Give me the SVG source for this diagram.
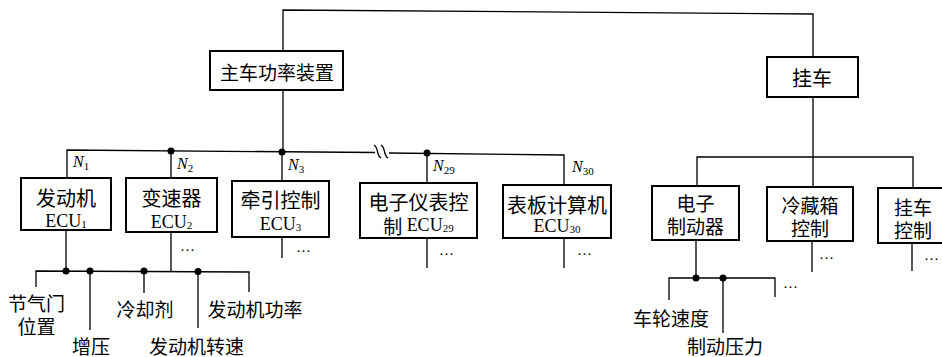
<svg xmlns="http://www.w3.org/2000/svg" width="942" height="357" viewBox="0 0 942 357">
<style>
.box{fill:#fff;stroke:#000;stroke-width:2}
.ln{fill:none;stroke:#000;stroke-width:1.3}
.cn{font-family:"Noto Sans CJK SC","Noto Sans",sans-serif;font-size:19px;fill:#000;text-anchor:middle;dominant-baseline:central}
.ec{font-family:"Liberation Serif",serif;font-size:18px;fill:#000;text-anchor:middle;dominant-baseline:central}
.sb{font-size:11px}
.nl{font-family:"Liberation Serif",serif;font-size:16px;font-style:italic;fill:#000}
.ns{font-style:normal;font-size:11px}
.el{font-family:"Liberation Serif",serif;font-size:15px;fill:#000}
</style>
<rect width="942" height="357" fill="#fff"/>
<g id="connectors">
<path class="ln" d="M283 51 V10 L813 14 V57"/>
<path class="ln" d="M283 90 V152"/>
<path class="ln" d="M67 178 V150 L375 152.5 M389 153 L564 155 V185"/>
<path class="ln" d="M374 145 C379 148,376 155,381 158 M381 145 C386 148,383 155,388 158"/>
<path class="ln" d="M171 151 V178 M282 152 V181 M427 153 V183"/>
<path class="ln" d="M813 97 V187 M697 186 V157 H913 V188"/>
<path class="ln" d="M66 230 V271 M36 287 V271 L249 272 V292 M90 271 V330 M144 271 V293 M198 271 V328 M171 232 V271"/>
<path class="ln" d="M282 237 V258 M427 238 V268 M564 238 V268 M812 241 V272 M912 243 V271"/>
<path class="ln" d="M696 240 V278 M669 300 V278 H775 V297 M723 278 V333"/>
<g fill="#000">
<circle cx="171" cy="151" r="3.5"/><circle cx="282" cy="152" r="3.5"/><circle cx="427" cy="153" r="3.5"/>
<circle cx="66" cy="271" r="3.5"/><circle cx="90" cy="271" r="3.5"/><circle cx="144" cy="271" r="3.5"/><circle cx="198" cy="271.5" r="3.5"/>
<circle cx="696" cy="278" r="3.5"/><circle cx="723" cy="278" r="3.5"/>
</g>
<text class="nl" x="73" y="167">N<tspan class="ns" dy="3">1</tspan></text>
<text class="nl" x="177" y="169">N<tspan class="ns" dy="3">2</tspan></text>
<text class="nl" x="288" y="170">N<tspan class="ns" dy="3">3</tspan></text>
<text class="nl" x="433" y="171">N<tspan class="ns" dy="3">29</tspan></text>
<text class="nl" x="572" y="172">N<tspan class="ns" dy="3">30</tspan></text>
<text class="el" x="180" y="255">···</text>
<text class="el" x="296" y="256">···</text>
<text class="el" x="439" y="259">···</text>
<text class="el" x="577" y="259">···</text>
<text class="el" x="819" y="263">···</text>
<text class="el" x="924" y="264">···</text>
<text class="el" x="783" y="292">···</text>
</g>
<g id="main"><rect class="box" x="210" y="51" width="133" height="39"/><text class="cn" x="277" y="71">主车功率装置</text></g>
<g id="trailer"><rect class="box" x="767" y="57" width="91" height="40"/><text class="cn" x="812" y="77" style="font-size:20px">挂车</text></g>
<g id="ecu1"><rect class="box" x="21" y="178" width="90" height="52"/><text class="cn" x="66" y="197" style="font-size:20px">发动机</text><text class="ec" x="66" y="221">ECU<tspan class="sb" dy="3">1</tspan></text></g>
<g id="ecu2"><rect class="box" x="126" y="178" width="91" height="54"/><text class="cn" x="171.5" y="197" style="font-size:20px">变速器</text><text class="ec" x="171.5" y="222">ECU<tspan class="sb" dy="3">2</tspan></text></g>
<g id="ecu3"><rect class="box" x="232" y="181" width="97" height="56"/><text class="cn" x="280.5" y="199" style="font-size:20px">牵引控制</text><text class="ec" x="280.5" y="224">ECU<tspan class="sb" dy="3">3</tspan></text></g>
<g id="ecu29"><rect class="box" x="360" y="183" width="117" height="55"/><text class="cn" x="418.5" y="201" style="font-size:20px">电子仪表控</text><text class="cn" x="418.5" y="225">制 <tspan style="font-family:'Liberation Serif',serif;font-size:18px">ECU</tspan><tspan style="font-family:'Liberation Serif',serif;font-size:11px" dy="3">29</tspan></text></g>
<g id="ecu30"><rect class="box" x="503" y="185" width="108" height="53"/><text class="cn" x="557" y="204" style="font-size:20px">表板计算机</text><text class="ec" x="557" y="226">ECU<tspan class="sb" dy="3">30</tspan></text></g>
<g id="brake"><rect class="box" x="652" y="186" width="87" height="54"/><text class="cn" x="695.5" y="202">电子</text><text class="cn" x="695.5" y="225">制动器</text></g>
<g id="fridge"><rect class="box" x="767" y="187" width="86" height="54"/><text class="cn" x="810" y="204">冷藏箱</text><text class="cn" x="810" y="227">控制</text></g>
<g id="trailerctrl"><rect class="box" x="878" y="188" width="80" height="55"/><text class="cn" x="913" y="206">挂车</text><text class="cn" x="913" y="229">控制</text></g>
<g id="sensors">
<text class="cn" x="36.5" y="302">节气门</text>
<text class="cn" x="36.5" y="325">位置</text>
<text class="cn" x="91" y="345">增压</text>
<text class="cn" x="145" y="308">冷却剂</text>
<text class="cn" x="196.5" y="345">发动机转速</text>
<text class="cn" x="255" y="308">发动机功率</text>
<text class="cn" x="671" y="317">车轮速度</text>
<text class="cn" x="725" y="345">制动压力</text>
</g>
</svg>
